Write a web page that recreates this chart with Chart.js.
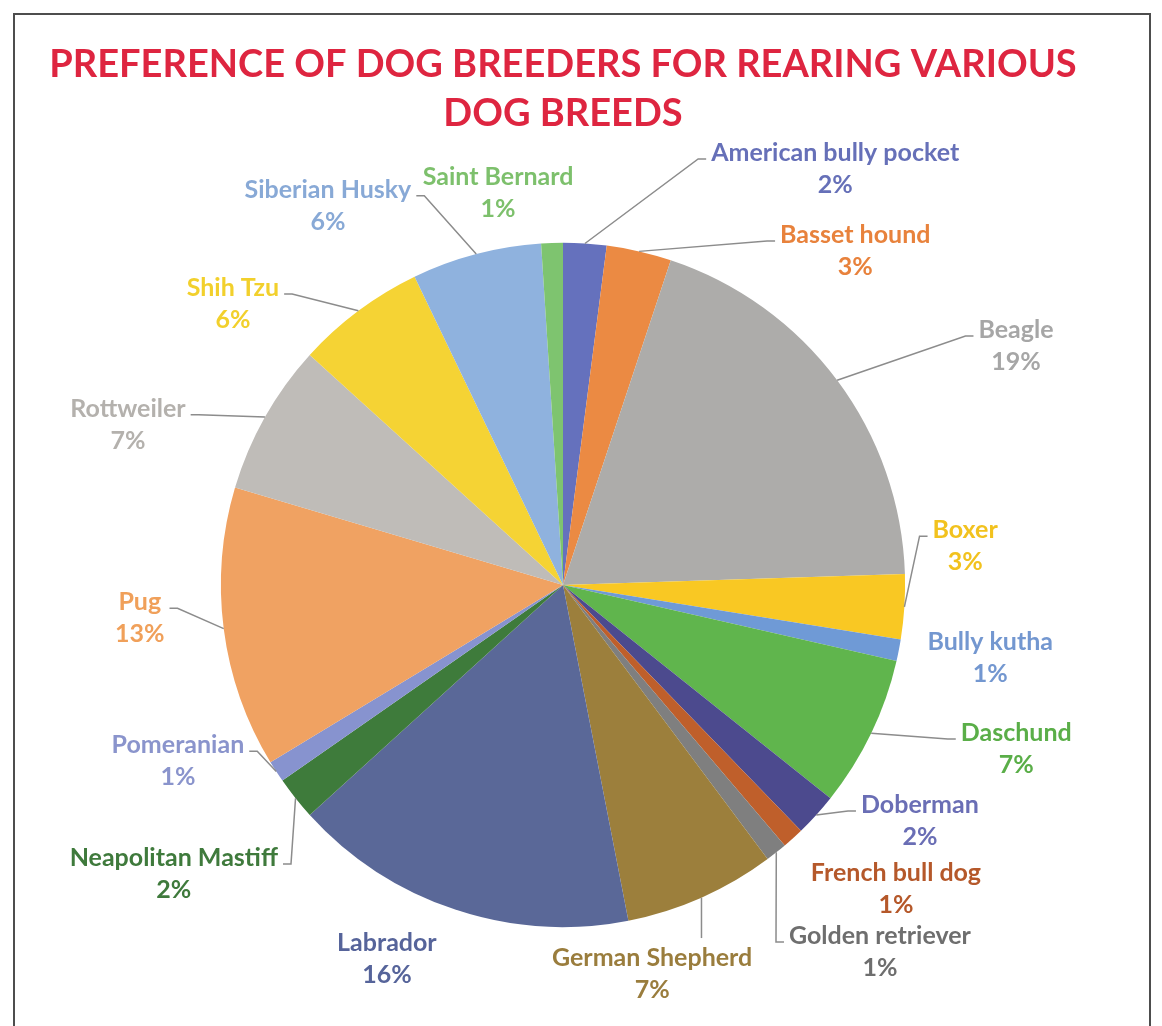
<!DOCTYPE html>
<html>
<head>
<meta charset="utf-8">
<title>Dog breeds pie</title>
<script src="https://cdn.jsdelivr.net/npm/chart.js@4.4.0/dist/chart.umd.min.js"></script>
<style>
  html, body { margin: 0; padding: 0; background: #fff; overflow: hidden; }
  #wrap { position: relative; width: 1162px; height: 1026px; }
  #frame {
    position: absolute; left: 13px; top: 13px; width: 1138px; height: 1100px;
    border: 2px solid #4d4d4d; box-sizing: border-box; pointer-events: none;
  }
  canvas { position: absolute; left: 0; top: 0; }
</style>
</head>
<body>
<div id="wrap">
  <canvas id="pieChart" width="1162" height="1026"></canvas>
  <div id="frame"></div>
</div>
<script>
// slices, clockwise from 12 o'clock
const breeds = [
    "American bully pocket", "Basset hound", "Beagle", "Boxer", "Bully kutha",
    "Daschund", "Doberman", "French bull dog", "Golden retriever", "German Shepherd",
    "Labrador", "Neapolitan Mastiff", "Pomeranian", "Pug", "Rottweiler",
    "Shih Tzu", "Siberian Husky", "Saint Bernard",
];
const shares = [2, 3, 19, 3, 1, 7, 2, 1, 1, 7, 16, 2, 1, 13, 7, 6, 6, 1];

const sliceColors = [
    "#6571bd", "#eb8a43", "#adacaa", "#f9c823", "#6f9ad6",
    "#60b54d", "#4c4a8e", "#bf5f2b", "#7f7f7f", "#9c7f3c",
    "#5a6898", "#3e7b3b", "#8793cf", "#f0a262", "#bfbcb8",
    "#f5d334", "#8fb2de", "#7ec46f",
];
const labelColors = [
    "#6670b8", "#e8823c", "#a6a6a6", "#f2c21e", "#7397d0",
    "#5aae48", "#6a6eb5", "#b5582a", "#6e6e6e", "#9a7d3d",
    "#56649a", "#3f7a3c", "#8a94cc", "#f0a05a", "#b4b1ad",
    "#f2d02c", "#88a9d6", "#7dc06c",
];

// label placement: polar angle (deg, clockwise from 3 o'clock) and distance in radii
const labelAngles = [-56.8, -48.8, -27.8, -5.5, 9.7, 19.9, 33.5, 42.4, 49.2, 77.1,
    115.2, 143.4, 155.4, 175.5, 200.2, 220.4, 238.2, 260.6];
const labelDists = [1.453, 1.297, 1.497, 1.181, 1.267, 1.409, 1.251, 1.318, 1.418, 1.167,
    1.209, 1.417, 1.238, 1.241, 1.355, 1.267, 1.304, 1.162];
// which side of the label the leader line attaches to ("" = no leader)
const leaderSides = ["L", "L", "L", "L", "", "L", "L", "", "L", "T",
    "", "R", "R", "R", "R", "R", "R", ""];

const outsideLabels = {
    id: "outsideLabels",
    afterDatasetsDraw(chart) {
        const ctx = chart.ctx;
        const meta = chart.getDatasetMeta(0);
        const lh = 32;
        ctx.save();
        ctx.font = "bold 25px Lato";
        ctx.textAlign = "center";
        ctx.textBaseline = "middle";
        meta.data.forEach((arc, i) => {
            const { x, y, startAngle, endAngle, outerRadius } = arc.getProps(
                ["x", "y", "startAngle", "endAngle", "outerRadius"], true);
            const mid = (startAngle + endAngle) / 2;
            const a = labelAngles[i] * Math.PI / 180;
            const cx = x + Math.cos(a) * outerRadius * labelDists[i];
            const cy = y + Math.sin(a) * outerRadius * labelDists[i];
            const lines = [breeds[i], shares[i] + "%"];
            const w = Math.max(...lines.map((t) => ctx.measureText(t).width));

            const side = leaderSides[i];
            if (side) {
                const px = x + Math.cos(mid) * outerRadius;
                const py = y + Math.sin(mid) * outerRadius;
                ctx.strokeStyle = "#8c8c8c";
                ctx.lineWidth = 1.5;
                ctx.beginPath();
                ctx.moveTo(px, py);
                if (side === "T") {
                    ctx.lineTo(px, cy - lh - 4);
                } else {
                    const ay = cy - 10;
                    const dir = side === "L" ? -1 : 1;
                    const ex = cx + dir * (w / 2 + 5);
                    ctx.lineTo(ex + dir * 8, ay);
                    ctx.lineTo(ex, ay);
                }
                ctx.stroke();
            }

            ctx.fillStyle = labelColors[i];
            ctx.fillText(lines[0], cx, cy - lh / 2);
            ctx.fillText(lines[1], cx, cy + lh / 2);
        });
        ctx.restore();
    },
};

const ctx = document.getElementById("pieChart").getContext("2d");
const pieChart = new Chart(ctx, {
    type: "pie",
    data: {
        labels: breeds,
        datasets: [{
            data: shares,
            backgroundColor: sliceColors,
            borderWidth: 0,
        }],
    },
    options: {
        responsive: false,
        animation: false,
        layout: {
            // wide enough for the title, pie centred at x = 563
            padding: { left: 40, right: 76, top: 0, bottom: 99 },
        },
        plugins: {
            legend: { display: false },
            tooltip: { enabled: false },
            title: {
                display: true,
                text: ["PREFERENCE OF DOG BREEDERS FOR REARING VARIOUS", "DOG BREEDS"],
                color: "#de2540",
                font: { family: "Lato", size: 38, weight: "bold", lineHeight: 1.3 },
                padding: { top: 40, bottom: 104 },
            },
        },
    },
    plugins: [outsideLabels],
});
</script>
</body>
</html>
